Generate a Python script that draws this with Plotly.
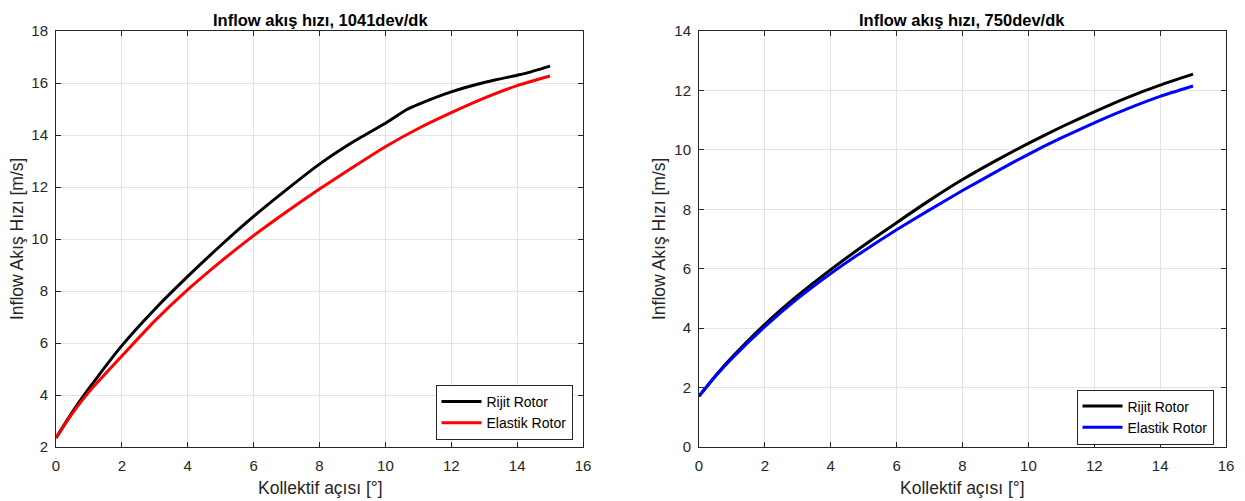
import plotly.graph_objects as go

# ---------------- data ----------------
x_1041_rijit = [0, 0.5, 1, 2, 3, 4, 5, 6, 7, 8, 9, 10, 10.65, 11, 12, 13, 14, 14.25, 15]
y_1041_rijit = [2.35, 3.35, 4.25, 5.90, 7.30, 8.56, 9.75, 10.87, 11.90, 12.88, 13.72, 14.45, 14.98, 15.18, 15.66, 16.02, 16.30, 16.37, 16.65]

x_1041_elastik = [0, 0.5, 1, 2, 3, 4, 5, 6, 7, 8, 9, 10, 11, 12, 13, 14, 15]
y_1041_elastik = [2.35, 3.30, 4.12, 5.50, 6.85, 8.05, 9.13, 10.13, 11.05, 11.92, 12.75, 13.55, 14.25, 14.86, 15.42, 15.90, 16.27]

x_750_rijit = [0, 0.5, 1, 2, 3, 4, 5, 6, 7, 8, 9, 10, 11, 12, 13, 14, 15]
y_750_rijit = [1.71, 2.40, 3.02, 4.13, 5.10, 5.97, 6.78, 7.55, 8.30, 9.00, 9.63, 10.22, 10.77, 11.28, 11.76, 12.18, 12.55]

x_750_elastik = [0, 0.5, 1, 2, 3, 4, 5, 6, 7, 8, 9, 10, 11, 12, 13, 14, 15]
y_750_elastik = [1.71, 2.38, 2.98, 4.05, 5.00, 5.84, 6.60, 7.31, 7.98, 8.63, 9.25, 9.85, 10.40, 10.91, 11.38, 11.80, 12.15]

x_ticks = [0, 2, 4, 6, 8, 10, 12, 14, 16]
y_ticks_1041 = [2, 4, 6, 8, 10, 12, 14, 16, 18]
y_ticks_750 = [0, 2, 4, 6, 8, 10, 12, 14]

title_1041 = "Inflow akış hızı, 1041dev/dk"
title_750 = "Inflow akış hızı, 750dev/dk"
x_label = "Kollektif açısı [°]"
y_label = "Inflow Akış Hızı [m/s]"
name_rijit = "Rijit Rotor"
name_elastik = "Elastik Rotor"

# ---------------- figure ----------------
OFF = 8  # page body margin in the browser
W, H = 1245 - OFF, 501 - OFF
FONT = "Liberation Sans, Arial, Helvetica, sans-serif"
AX = "#262626"
GRID = "#e3e3e3"

def px(xp):
    return (xp - OFF) / W

def py(yp):
    return (H - (yp - OFF)) / H

fig = go.Figure()

line_kw = dict(shape="spline", smoothing=0.5, width=3)

fig.add_trace(go.Scatter(x=x_1041_rijit, y=y_1041_rijit, mode="lines", name=name_rijit,
                         line=dict(color="#000000", **line_kw), xaxis="x", yaxis="y", legend="legend"))
fig.add_trace(go.Scatter(x=x_1041_elastik, y=y_1041_elastik, mode="lines", name=name_elastik,
                         line=dict(color="#ff0000", **line_kw), xaxis="x", yaxis="y", legend="legend"))
fig.add_trace(go.Scatter(x=x_750_rijit, y=y_750_rijit, mode="lines", name=name_rijit,
                         line=dict(color="#000000", **line_kw), xaxis="x2", yaxis="y2", legend="legend2"))
fig.add_trace(go.Scatter(x=x_750_elastik, y=y_750_elastik, mode="lines", name=name_elastik,
                         line=dict(color="#0000ff", **line_kw), xaxis="x2", yaxis="y2", legend="legend2"))

ydom = [py(447), py(31)]

def xaxis(dom, anchor):
    return dict(domain=dom, anchor=anchor, range=[0, 16], tickvals=x_ticks, automargin=False,
                ticks="inside", ticklen=5, tickcolor=AX, mirror="ticks", showline=True,
                linecolor=AX, linewidth=1, showgrid=True, gridcolor=GRID, gridwidth=1,
                zeroline=False, tickfont=dict(family=FONT, size=15, color=AX),
                ticklabelstandoff=5)

def yaxis(rng, vals, anchor):
    return dict(domain=ydom, anchor=anchor, range=rng, tickvals=vals, automargin=False,
                ticks="inside", ticklen=5, tickcolor=AX, mirror="ticks", showline=True,
                linecolor=AX, linewidth=1, showgrid=True, gridcolor=GRID, gridwidth=1,
                zeroline=False, tickfont=dict(family=FONT, size=15, color=AX),
                ticklabelstandoff=4)

legend_common = dict(bgcolor="white", bordercolor=AX, borderwidth=1,
                     font=dict(family=FONT, size=14, color="#000000"),
                     xanchor="center", yanchor="middle", tracegroupgap=0,
                     itemwidth=40)

annotations = [
    dict(text="<b>" + title_1041 + "</b>", x=px(320), y=py(19.5), xref="paper", yref="paper",
         xanchor="center", yanchor="middle", showarrow=False,
         font=dict(family=FONT, size=16.5, color="#000000")),
    dict(text="<b>" + title_750 + "</b>", x=px(962), y=py(19.5), xref="paper", yref="paper",
         xanchor="center", yanchor="middle", showarrow=False,
         font=dict(family=FONT, size=16.5, color="#000000")),
    dict(text=x_label, x=px(320), y=py(488), xref="paper", yref="paper",
         xanchor="center", yanchor="middle", showarrow=False,
         font=dict(family=FONT, size=17.5, color=AX)),
    dict(text=x_label, x=px(962), y=py(488), xref="paper", yref="paper",
         xanchor="center", yanchor="middle", showarrow=False,
         font=dict(family=FONT, size=17.5, color=AX)),
    dict(text=y_label, x=px(17), y=py(239), xref="paper", yref="paper",
         xanchor="center", yanchor="middle", textangle=-90, showarrow=False,
         font=dict(family=FONT, size=17.5, color=AX)),
    dict(text=y_label, x=px(659), y=py(239), xref="paper", yref="paper",
         xanchor="center", yanchor="middle", textangle=-90, showarrow=False,
         font=dict(family=FONT, size=17.5, color=AX)),
]

fig.update_layout(
    width=W, height=H,
    margin=dict(l=0, r=0, t=0, b=0, autoexpand=False),
    paper_bgcolor="white", plot_bgcolor="white",
    font=dict(family=FONT, color=AX),
    xaxis=xaxis([px(56), px(583)], "y"),
    yaxis=yaxis([2, 18], y_ticks_1041, "x"),
    xaxis2=xaxis([px(699), px(1226)], "y2"),
    yaxis2=yaxis([0, 14], y_ticks_750, "x2"),
    legend=dict(x=px(504), y=py(412.5), **legend_common),
    legend2=dict(x=px(1145), y=py(417), **legend_common),
    annotations=annotations,
    showlegend=True,
)

fig.write_html("out.html")
